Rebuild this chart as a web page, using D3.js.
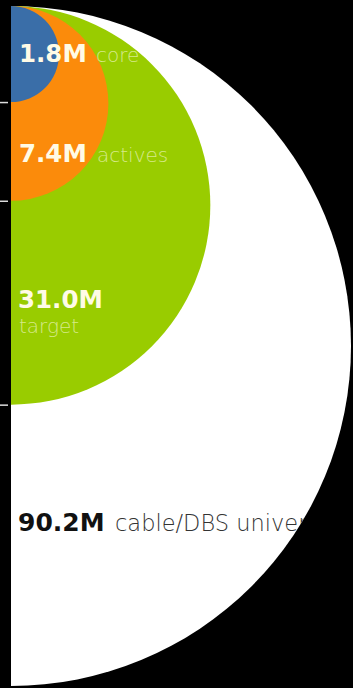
<!DOCTYPE html>
<html>
<head>
<meta charset="utf-8">
<script src="https://cdn.jsdelivr.net/npm/d3@7/dist/d3.min.js"></script>
<style>
  html, body { margin: 0; padding: 0; background: #000; }
  svg { display: block; }
</style>
</head>
<body>
<script>
// Audience funnel: nested half-circles, area proportional to audience size
const segments = ["cable/DBS universe", "target", "actives", "core"];
const values = [90.2, 31.0, 7.4, 1.8];           // millions
const valueLabels = ["90.2M", "31.0M", "7.4M", "1.8M"];
const colors = ["#ffffff", "#99cc00", "#fb8b0b", "#3a6ea8"];

const W = 353, H = 688;
const originX = 11, originY = 6;

const svg = d3.select("body").append("svg")
  .attr("width", W).attr("height", H);

svg.append("rect").attr("width", W).attr("height", H).attr("fill", "#000");

const r = d3.scaleSqrt().domain([0, d3.max(values)]).range([0, 340]);

svg.append("clipPath").attr("id", "half")
  .append("rect").attr("x", originX).attr("y", 0).attr("width", W).attr("height", H);

const rings = svg.append("g").attr("clip-path", "url(#half)");
rings.selectAll("circle")
  .data(values)
  .join("circle")
  .attr("cx", originX)
  .attr("cy", d => originY + r(d))
  .attr("r", d => r(d))
  .attr("fill", (d, i) => colors[i]);

// tick marks at the bottom of each inner circle
svg.selectAll("line.tick")
  .data(values.slice(1))
  .join("line")
  .attr("class", "tick")
  .attr("x1", 0).attr("x2", 8)
  .attr("y1", d => originY + 2 * r(d) + 0.5)
  .attr("y2", d => originY + 2 * r(d) + 0.5)
  .attr("stroke", "#ddd").attr("stroke-width", 1.5);

// text clipped to the outer circle
svg.append("clipPath").attr("id", "outer")
  .append("circle").attr("cx", originX).attr("cy", originY + r(values[0])).attr("r", r(values[0]));

const txt = svg.append("g")
  .attr("clip-path", "url(#outer)")
  .style("font-family", "'DejaVu Sans', Verdana, sans-serif");

// label layout: [index, number x, number y, desc x, desc y, number size, desc size]
const layout = [
  [3, 19, 62, 96, 62, 24.5, 20],
  [2, 19, 162, 97, 162, 24.5, 20],
  [1, 18, 308, 19, 333, 24.5, 20],
  [0, 18, 531, 115, 531, 25, 22.5]
];
const numFill = ["#111", "#fffbe6", "#fffbe6", "#fffbe6"];
const descFill = ["#333", "rgba(255,255,230,0.6)", "rgba(255,255,230,0.6)", "rgba(255,255,230,0.6)"];

layout.forEach(([i, nx, ny, dx, dy, ns, ds]) => {
  txt.append("text")
    .attr("x", nx).attr("y", ny)
    .attr("font-size", ns).attr("font-weight", "bold")
    .attr("fill", numFill[i])
    .text(valueLabels[i]);
  txt.append("text")
    .attr("x", dx).attr("y", dy)
    .attr("font-size", ds).attr("font-weight", 300)
    .attr("fill", descFill[i])
    .text(segments[i]);
});
</script>
</body>
</html>
